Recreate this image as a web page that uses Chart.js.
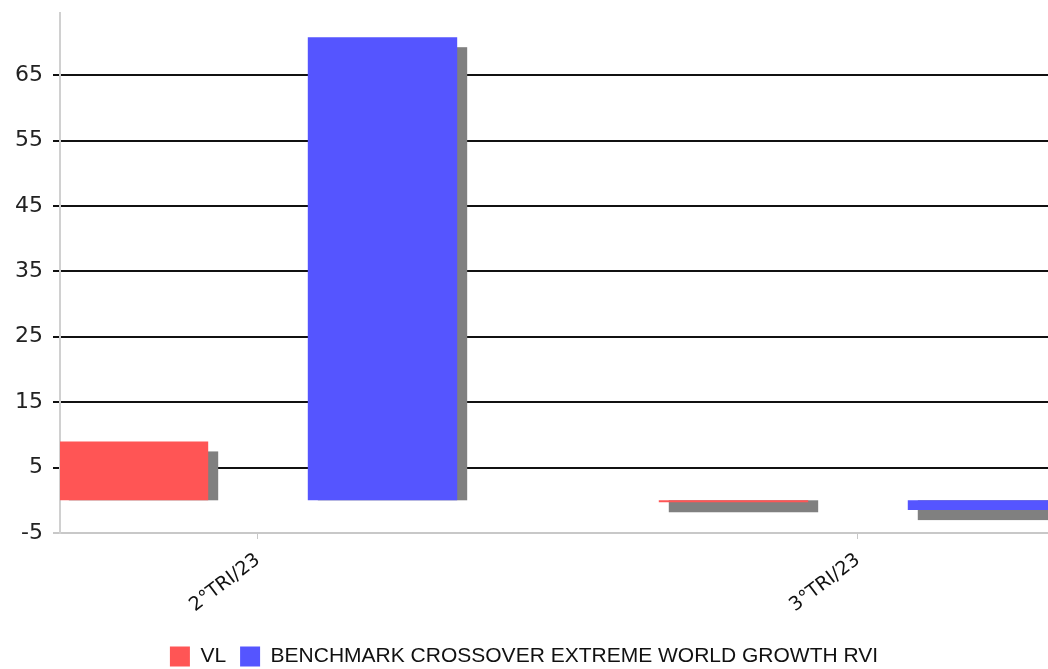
<!DOCTYPE html>
<html><head><meta charset="utf-8">
<script src="https://cdn.jsdelivr.net/npm/chart.js@4"></script>
<style>html,body{margin:0;padding:0;background:#fff;overflow:hidden}
#wrap{position:relative;width:1048px;height:669px}</style>
</head><body><div id="wrap"><canvas id="c"></canvas></div>
<script>
const categories = ['2°TRI/23', '3°TRI/23'];
const vlValues = [9.0, -0.3];
const benchmarkValues = [70.8, -1.5];
const seriesNames = ['VL', 'BENCHMARK CROSSOVER EXTREME WORLD GROWTH RVI'];
const seriesColors = ['#FF5555', '#5555FF'];
const yTickValues = [-5, 5, 15, 25, 35, 45, 55, 65];
const yMin = -5, yMax = 74.5;
const xMin = -0.33, xMax = 1.3167;

const toPoints = arr => arr.map((v, i) => ({ x: i, y: v }));

const shadowPlugin = {
  id: 'shadow',
  beforeDatasetsDraw(chart) {
    const ctx = chart.ctx, a = chart.chartArea;
    ctx.save();
    ctx.beginPath();
    ctx.rect(a.left, a.top, a.right - a.left, a.bottom - a.top);
    ctx.clip();
    ctx.fillStyle = '#808080';
    chart.data.datasets.forEach((ds, di) => {
      chart.getDatasetMeta(di).data.forEach(bar => {
        const p = bar.getProps(['x', 'y', 'base', 'width'], true);
        const off = 10;
        const left = p.x - p.width / 2 + off;
        let top, bottom;
        if (p.y <= p.base) { top = p.y + off; bottom = p.base; }
        else { top = p.base; bottom = p.y + off; }
        if (bottom > top) ctx.fillRect(left, top, p.width, bottom - top);
      });
    });
    ctx.restore();
  }
};

new Chart(document.getElementById('c'), {
  type: 'bar',
  data: {
    datasets: [
      { label: seriesNames[0], data: toPoints(vlValues), backgroundColor: seriesColors[0], borderWidth: 0 },
      { label: seriesNames[1], data: toPoints(benchmarkValues), backgroundColor: seriesColors[1], borderWidth: 0 }
    ]
  },
  options: {
    responsive: true,
    maintainAspectRatio: false,
    animation: false,
    categoryPercentage: 0.83,
    barPercentage: 0.6,
    layout: { padding: { top: 13, left: 0, right: 0, bottom: -8 } },
    plugins: {
      tooltip: { enabled: false },
      legend: {
        position: 'bottom',
        labels: {
          boxWidth: 20, boxHeight: 20, padding: 14,
          font: { family: 'Liberation Sans', size: 21 },
          color: '#111'
        }
      }
    },
    scales: {
      x: {
        type: 'linear', min: xMin, max: xMax, offset: false,
        afterBuildTicks: s => { s.ticks = categories.map((c, i) => ({ value: i })); },
        ticks: {
          autoSkip: false, minRotation: 37, maxRotation: 37,
          callback: v => categories[Math.round(v)] ?? '',
          font: { family: 'DejaVu Sans', size: 19 }, color: '#111', padding: 10
        },
        grid: { offset: false, drawOnChartArea: false, drawTicks: true, tickLength: 6, color: '#c8c8c8' },
        border: { display: true, color: '#c8c8c8', width: 2 },
        afterFit: s => { s.height = 99; }
      },
      y: {
        min: yMin, max: yMax,
        afterBuildTicks: s => { s.ticks = yTickValues.map(v => ({ value: v })); },
        ticks: {
          font: { family: 'DejaVu Sans', size: 22 }, color: '#222', padding: 10
        },
        grid: {
          color: c => (c.tick && c.tick.value === yMin) ? 'rgba(0,0,0,0)' : '#111',
          tickColor: c => (c.tick && c.tick.value === yMin) ? '#c8c8c8' : '#111',
          lineWidth: 2, tickLength: 7
        },
        border: { color: '#d0d0d0', width: 2 },
        afterFit: s => { s.width = 60; s.paddingTop = 0; s.paddingBottom = 0; }
      }
    }
  },
  plugins: [shadowPlugin]
});
</script>
</body></html>
